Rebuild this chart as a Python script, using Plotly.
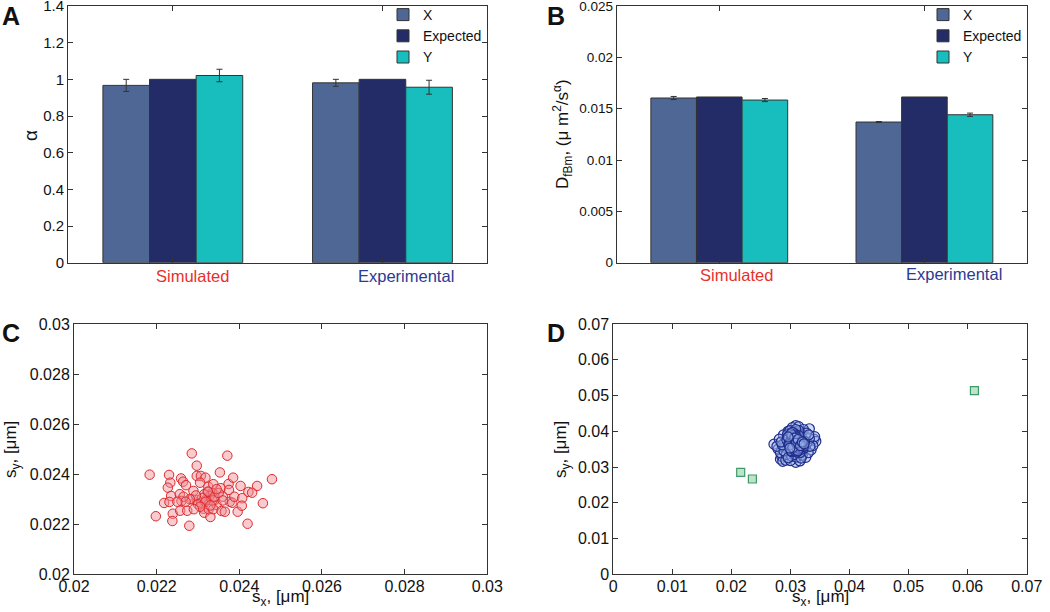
import plotly.graph_objects as go

# ---------------- data ----------------
categories = ["Simulated", "Experimental"]
cat_colors = ["#e8302a", "#2b3a92"]
series_names = ["X", "Expected", "Y"]
series_colors = ["#4e6794", "#232c66", "#18bebe"]

alpha_vals = {"X": [0.967, 0.981], "Expected": [1.0, 1.0], "Y": [1.021, 0.957]}
alpha_err = {"X": [0.033, 0.019], "Expected": [0.0, 0.0], "Y": [0.034, 0.038]}

d_vals = {"X": [0.01604, 0.01370], "Expected": [0.01614, 0.01614], "Y": [0.01584, 0.01441]}
d_err = {"X": [0.00015, 0.00005], "Expected": [0.0, 0.0], "Y": [0.00015, 0.00016]}

a_ticks = [0, 0.2, 0.4, 0.6, 0.8, 1.0, 1.2, 1.4]
a_ticktext = ["0", "0.2", "0.4", "0.6", "0.8", "1", "1.2", "1.4"]
b_ticks = [0, 0.005, 0.01, 0.015, 0.02, 0.025]
b_ticktext = ["0", "0.005", "0.01", "0.015", "0.02", "0.025"]
c_ticks = [0.02, 0.022, 0.024, 0.026, 0.028, 0.03]
c_ticktext = ["0.02", "0.022", "0.024", "0.026", "0.028", "0.03"]
d_ticks = [0, 0.01, 0.02, 0.03, 0.04, 0.05, 0.06, 0.07]
d_ticktext = ["0", "0.01", "0.02", "0.03", "0.04", "0.05", "0.06", "0.07"]

sim_sx = [0.02183, 0.02198, 0.02230, 0.02233, 0.02227, 0.02235, 0.02218, 0.02231, 0.02239, 0.02238,
          0.02285, 0.02297, 0.02279, 0.02259, 0.02264, 0.02271, 0.02256, 0.02260, 0.02257, 0.02274,
          0.02297, 0.02307, 0.02318, 0.02305, 0.02289, 0.02285, 0.02297, 0.02308, 0.02313, 0.02315,
          0.02330, 0.02326, 0.02321, 0.02323, 0.02325, 0.02337, 0.02334, 0.02341, 0.02345, 0.02337,
          0.02353, 0.02371, 0.02355, 0.02360, 0.02357, 0.02365, 0.02374, 0.02375, 0.02385, 0.02377,
          0.02383, 0.02388, 0.02396, 0.02403, 0.02407, 0.02406, 0.02422, 0.02431, 0.02420, 0.02443,
          0.02457, 0.02479,
          0.02320, 0.02328, 0.02315, 0.02335, 0.02310, 0.02300, 0.02325, 0.02340, 0.02295, 0.02318,
          0.02350, 0.02305, 0.02345, 0.02280, 0.02265, 0.02270, 0.02290, 0.02330, 0.02360, 0.02250]
sim_sy = [0.02398, 0.02232, 0.02397, 0.02366, 0.02346, 0.02313, 0.02285, 0.02289, 0.02242, 0.02213,
          0.02483, 0.02434, 0.02194, 0.02383, 0.02370, 0.02356, 0.02320, 0.02293, 0.02254, 0.02254,
          0.02393, 0.02393, 0.02386, 0.02366, 0.02333, 0.02300, 0.02297, 0.02286, 0.02262, 0.02246,
          0.02229, 0.02260, 0.02297, 0.02330, 0.02350, 0.02360, 0.02324, 0.02297, 0.02277, 0.02260,
          0.02407, 0.02474, 0.02344, 0.02310, 0.02253, 0.02250, 0.02361, 0.02337, 0.02386, 0.02290,
          0.02286, 0.02310, 0.02250, 0.02353, 0.02304, 0.02274, 0.02329, 0.02326, 0.02202, 0.02353,
          0.02284, 0.02380,
          0.02300, 0.02312, 0.02320, 0.02295, 0.02305, 0.02280, 0.02330, 0.02310, 0.02315, 0.02290,
          0.02325, 0.02270, 0.02340, 0.02300, 0.02310, 0.02290, 0.02260, 0.02275, 0.02295, 0.02290]

exp_sx = [0.0272, 0.0332, 0.0309, 0.0340, 0.0283, 0.0309, 0.0343, 0.0341, 0.0285, 0.0287,
          0.0292, 0.0300, 0.0316, 0.0326, 0.0335, 0.0338, 0.0296, 0.0303, 0.0314, 0.0322,
          0.0288, 0.0281, 0.0279, 0.0283, 0.0277,
          0.0295, 0.0300, 0.0305, 0.0310, 0.0312, 0.0318, 0.0320, 0.0315, 0.0308, 0.0300,
          0.0295, 0.0290, 0.0298, 0.0305, 0.0312, 0.0320, 0.0325, 0.0328, 0.0325, 0.0318,
          0.0310, 0.0302, 0.0295, 0.0290, 0.0293, 0.0302, 0.0310, 0.0320, 0.0330, 0.0332,
          0.0306, 0.0313, 0.0300, 0.0308, 0.0303, 0.0316, 0.0322, 0.0297, 0.0311, 0.0304,
          0.0319, 0.0289, 0.0327, 0.0314, 0.0299, 0.0286, 0.0333, 0.0324, 0.0307, 0.0296,
          0.0318, 0.0331, 0.0309, 0.0284,
          0.0303, 0.0307, 0.0311, 0.0315, 0.0301, 0.0305, 0.0309, 0.0313, 0.0317, 0.0299,
          0.0306, 0.0312, 0.0298, 0.0314, 0.0302, 0.0321, 0.0294, 0.0308, 0.0316, 0.0304,
          0.0306, 0.0310, 0.0304, 0.0314, 0.0300, 0.0318, 0.0308, 0.0312, 0.0302, 0.0316,
          0.0297, 0.0322, 0.0305, 0.0311, 0.0309, 0.0301, 0.0319, 0.0307, 0.0313, 0.0303,
          0.0305, 0.0308, 0.0311, 0.0314, 0.0302, 0.0306, 0.0309, 0.0312, 0.0315, 0.0300,
          0.0304, 0.0307, 0.0310, 0.0313, 0.0316, 0.0303, 0.0306, 0.0309, 0.0312, 0.0298,
          0.0301, 0.0304, 0.0307, 0.0310, 0.0313, 0.0317, 0.0320, 0.0296, 0.0299, 0.0323]
exp_sy = [0.0364, 0.0407, 0.0313, 0.0378, 0.0322, 0.0416, 0.0372, 0.0385, 0.0330, 0.0316,
          0.0319, 0.0318, 0.0317, 0.0327, 0.0348, 0.0360, 0.0400, 0.0410, 0.0413, 0.0405,
          0.0390, 0.0378, 0.0350, 0.0340, 0.0358,
          0.0380, 0.0372, 0.0365, 0.0360, 0.0370, 0.0375, 0.0362, 0.0352, 0.0348, 0.0355,
          0.0360, 0.0368, 0.0345, 0.0340, 0.0338, 0.0345, 0.0355, 0.0368, 0.0385, 0.0392,
          0.0395, 0.0390, 0.0392, 0.0355, 0.0335, 0.0330, 0.0328, 0.0333, 0.0340, 0.0380,
          0.0380, 0.0383, 0.0363, 0.0372, 0.0352, 0.0365, 0.0352, 0.0372, 0.0356, 0.0377,
          0.0383, 0.0345, 0.0395, 0.0402, 0.0402, 0.0362, 0.0358, 0.0372, 0.0335, 0.0326,
          0.0325, 0.0390, 0.0405, 0.0370,
          0.0368, 0.0362, 0.0366, 0.0358, 0.0374, 0.0357, 0.0378, 0.0370, 0.0349, 0.0366,
          0.0386, 0.0344, 0.0385, 0.0388, 0.0343, 0.0370, 0.0375, 0.0392, 0.0340, 0.0396,
          0.0364, 0.0367, 0.0359, 0.0361, 0.0369, 0.0371, 0.0354, 0.0376, 0.0381, 0.0348,
          0.0364, 0.0358, 0.0387, 0.0342, 0.0379, 0.0346, 0.0366, 0.0389, 0.0351, 0.0397,
          0.0361, 0.0369, 0.0357, 0.0373, 0.0366, 0.0350, 0.0379, 0.0363, 0.0354, 0.0371,
          0.0382, 0.0347, 0.0375, 0.0359, 0.0368, 0.0388, 0.0353, 0.0384, 0.0346, 0.0362,
          0.0393, 0.0355, 0.0381, 0.0367, 0.0377, 0.0360, 0.0370, 0.0384, 0.0353, 0.0365]

outlier_sx = [0.02157, 0.02355, 0.06115]
outlier_sy = [0.02852, 0.02665, 0.05135]

# ---------------- figure ----------------
W, H = 1050, 612
FONT = "Liberation Sans, Arial, Helvetica, sans-serif"


def xd(a, b):
    return [a / W, b / W]


def yd(top, bottom):
    return [1 - bottom / H, 1 - top / H]


fig = go.Figure()

for i, name in enumerate(series_names):
    fig.add_trace(go.Bar(
        x=categories, y=alpha_vals[name], name=name,
        marker=dict(color=series_colors[i], line=dict(color="#333333", width=1)),
        error_y=dict(type="data", array=alpha_err[name], visible=name != "Expected",
                     color="#333333", thickness=1, width=3),
        xaxis="x", yaxis="y", legend="legend"))
for i, name in enumerate(series_names):
    fig.add_trace(go.Bar(
        x=categories, y=d_vals[name], name=name,
        marker=dict(color=series_colors[i], line=dict(color="#333333", width=1)),
        error_y=dict(type="data", array=d_err[name], visible=name != "Expected",
                     color="#333333", thickness=1, width=3),
        xaxis="x2", yaxis="y2", legend="legend2"))

fig.add_trace(go.Scatter(
    x=sim_sx, y=sim_sy, mode="markers", showlegend=False,
    marker=dict(symbol="circle", size=9.5, color="rgba(240,140,150,0.45)",
                line=dict(color="#dd2a2a", width=1)),
    xaxis="x3", yaxis="y3"))
fig.add_trace(go.Scatter(
    x=exp_sx, y=exp_sy, mode="markers", showlegend=False,
    marker=dict(symbol="circle", size=10, color="rgba(150,180,232,0.45)",
                line=dict(color="#222d8c", width=1.2)),
    xaxis="x4", yaxis="y4"))
fig.add_trace(go.Scatter(
    x=outlier_sx, y=outlier_sy, mode="markers", showlegend=False,
    marker=dict(symbol="square", size=8, color="#bfe3c9",
                line=dict(color="#3f9a6a", width=1.2)),
    xaxis="x4", yaxis="y4"))


def ax(size, **kw):
    d = dict(showline=True, linecolor="#333333", linewidth=1, mirror="ticks",
             ticks="inside", ticklen=5, tickcolor="#333333", showgrid=False,
             zeroline=False, automargin=False, ticklabeloverflow="allow",
             tickfont=dict(family=FONT, size=size, color="#111111"))
    d.update(kw)
    return d


layout = dict(
    width=W, height=H, margin=dict(l=0, r=0, t=0, b=0, autoexpand=False),
    paper_bgcolor="white", plot_bgcolor="white",
    barmode="group", bargap=0.333, bargroupgap=0,
    font=dict(family=FONT, color="#111111"),
    xaxis=ax(16.5, domain=xd(68, 487.3), anchor="y", type="category", range=[-0.5, 1.5],
             tickvals=categories, showticklabels=False),
    yaxis=ax(15, domain=yd(6, 262.7), anchor="x", range=[0, 1.4], tickvals=a_ticks, ticktext=a_ticktext),
    xaxis2=ax(16.5, domain=xd(616.7, 1027), anchor="y2", type="category", range=[-0.5, 1.5],
              tickvals=categories, showticklabels=False),
    yaxis2=ax(13.5, domain=yd(6, 262.7), anchor="x2", range=[0, 0.025], tickvals=b_ticks, ticktext=b_ticktext),
    xaxis3=ax(16, domain=xd(74, 487.3), anchor="y3", range=[0.02, 0.03], tickvals=c_ticks, ticktext=c_ticktext,
              ticklabelstandoff=-3),
    yaxis3=ax(16, domain=yd(324, 574.3), anchor="x3", range=[0.02, 0.03], tickvals=c_ticks, ticktext=c_ticktext),
    xaxis4=ax(16, domain=xd(613.3, 1026.7), anchor="y4", range=[0, 0.07], tickvals=d_ticks, ticktext=d_ticktext,
              ticklabelstandoff=-3),
    yaxis4=ax(16, domain=yd(324, 574.3), anchor="x4", range=[0, 0.07], tickvals=d_ticks, ticktext=d_ticktext),
    legend=dict(x=(423 - 40) / W, y=1 + 1 / H, xanchor="left", yanchor="top",
                bgcolor="rgba(0,0,0,0)", borderwidth=0, tracegroupgap=0,
                font=dict(family=FONT, size=14, color="#111111")),
    legend2=dict(x=(963 - 40) / W, y=1 + 1 / H, xanchor="left", yanchor="top",
                 bgcolor="rgba(0,0,0,0)", borderwidth=0, tracegroupgap=0,
                 font=dict(family=FONT, size=14, color="#111111")),
)
fig.update_layout(**layout)

ann_font = dict(family=FONT, size=17, color="#111111")
letter_font = dict(family=FONT, size=25, color="#111111")
cat_font = dict(family=FONT, size=16.5)
annotations = [
    dict(text="<b>A</b>", x=0 / W, y=1 - 16 / H, xanchor="left", yanchor="middle", font=letter_font),
    dict(text="<b>B</b>", x=545 / W, y=1 - 16 / H, xanchor="left", yanchor="middle", font=letter_font),
    dict(text="<b>C</b>", x=0 / W, y=1 - 333 / H, xanchor="left", yanchor="middle", font=letter_font),
    dict(text="<b>D</b>", x=545 / W, y=1 - 333 / H, xanchor="left", yanchor="middle", font=letter_font),
    dict(text="α", x=30 / W, y=1 - 136 / H, textangle=-90, xanchor="center", yanchor="middle", font=dict(ann_font, size=19)),
    dict(text="D<sub>fBm</sub>, (μ m<sup>2</sup>/s<sup>α</sup>)", x=562 / W, y=1 - 134 / H, textangle=-90,
         xanchor="center", yanchor="middle", font=ann_font),
    dict(text="s<sub>y</sub>, [μm]", x=12 / W, y=1 - 450 / H, textangle=-90, xanchor="center", yanchor="middle", font=ann_font),
    dict(text="s<sub>y</sub>, [μm]", x=562 / W, y=1 - 450 / H, textangle=-90, xanchor="center", yanchor="middle", font=ann_font),
    dict(text="s<sub>x</sub>, [μm]", x=280 / W, y=1 - 598 / H, xanchor="center", yanchor="middle", font=ann_font),
    dict(text="s<sub>x</sub>, [μm]", x=820 / W, y=1 - 598 / H, xanchor="center", yanchor="middle", font=ann_font),
]
for a in annotations:
    a.update(xref="paper", yref="paper", showarrow=False)

# category labels (placed as in the original, slightly right of each group)
cat_shift = {"x": [20, 24], "x2": [17, 30]}
cat_y = {"x": [276, 276], "x2": [275, 274]}
for axname in ("x", "x2"):
    for j, cat in enumerate(categories):
        annotations.append(dict(text=cat, x=cat, xref=axname, y=1 - cat_y[axname][j] / H, yref="paper",
                                xshift=cat_shift[axname][j], xanchor="center", yanchor="middle",
                                showarrow=False, font=dict(cat_font, color=cat_colors[j])))
fig.update_layout(annotations=annotations)

fig.write_html("out.html", config={"displayModeBar": False},
               post_script="document.body.style.margin='0px';document.body.style.padding='0px';"
                           "document.body.style.overflow='hidden';")
